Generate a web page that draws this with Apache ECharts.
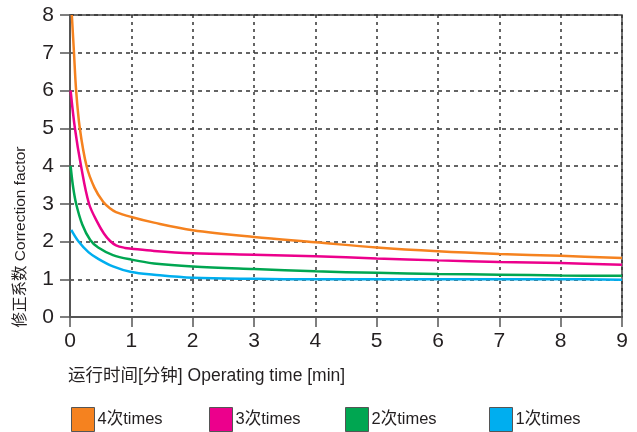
<!DOCTYPE html>
<html>
<head>
<meta charset="utf-8">
<script src="https://cdn.jsdelivr.net/npm/echarts@6/dist/echarts.min.js"></script>
<style>html,body{margin:0;padding:0;background:#fff;}#c{width:637px;height:432px;}</style>
</head>
<body>
<div id="c"></div>
<script>
const xTicks = [0, 1, 2, 3, 4, 5, 6, 7, 8, 9];
const yTicks = [0, 1, 2, 3, 4, 5, 6, 7, 8];
const seriesNames = ['4次times', '3次times', '2次times', '1次times'];

const orangeX = [0.03, 0.065, 0.10, 0.16, 0.27, 0.40, 0.54, 0.65, 0.75, 1, 1.37, 2, 3, 4, 5, 6, 7, 8, 9];
const orangeY = [8, 7, 6, 5, 4, 3.42, 3.05, 2.88, 2.78, 2.65, 2.5, 2.3, 2.12, 1.98, 1.84, 1.74, 1.67, 1.62, 1.56];

const pinkX = [0.01, 0.08, 0.18, 0.31, 0.45, 0.55, 0.65, 0.75, 0.9, 1, 1.37, 2, 3, 4, 5, 6, 7, 8, 9];
const pinkY = [6, 5, 4, 3, 2.5, 2.22, 2.02, 1.9, 1.83, 1.81, 1.75, 1.69, 1.65, 1.61, 1.55, 1.50, 1.46, 1.43, 1.385];

const greenX = [0.01, 0.05, 0.1, 0.2, 0.33, 0.46, 0.7, 1, 1.37, 2, 3, 4, 5, 6, 7, 8, 9];
const greenY = [4, 3.45, 3.0, 2.45, 2.04, 1.84, 1.64, 1.52, 1.42, 1.34, 1.27, 1.21, 1.17, 1.14, 1.12, 1.10, 1.09];

const cyanX = [0.02, 0.14, 0.3, 0.46, 0.7, 1, 1.37, 2, 3, 4, 5, 6, 7, 8, 9];
const cyanY = [2.31, 2.0, 1.72, 1.54, 1.34, 1.19, 1.12, 1.04, 1.01, 1.0, 1.0, 1.0, 1.0, 1.0, 0.99];

const colors = ['#F5821F', '#EC008C', '#00A651', '#00AEEF'];
const FONT = '"Liberation Sans", Arial, "Noto Sans CJK SC", sans-serif';

function zip(xs, ys) { return xs.map((x, i) => [x, ys[i]]); }
const allData = [zip(orangeX, orangeY), zip(pinkX, pinkY), zip(greenX, greenY), zip(cyanX, cyanY)];

const chart = echarts.init(document.getElementById('c'), null, {renderer: 'canvas'});
const legendLefts = [71, 209, 345, 489];

const option = {
  animation: false,
  backgroundColor: '#fff',
  textStyle: {fontFamily: FONT},
  grid: {left: 70, right: 15, top: 15, bottom: 115, show: true, borderColor: '#444', borderWidth: 1.5, outerBoundsMode: 'none'},
  xAxis: {
    type: 'value', min: xTicks[0], max: xTicks[xTicks.length - 1], interval: 1,
    axisLine: {show: true, onZero: false, lineStyle: {color: '#555', width: 2}},
    axisTick: {show: true, length: 10, lineStyle: {color: '#555', width: 1.5}},
    axisLabel: {color: '#231f20', fontSize: 21, margin: 14, fontFamily: FONT},
    splitLine: {show: true, lineStyle: {color: '#333', width: 1.5, type: [3, 4]}}
  },
  yAxis: {
    type: 'value', min: yTicks[0], max: yTicks[yTicks.length - 1], interval: 1,
    axisLine: {show: true, onZero: false, lineStyle: {color: '#555', width: 2}},
    axisTick: {show: true, length: 10, lineStyle: {color: '#555', width: 1.5}},
    axisLabel: {color: '#231f20', fontSize: 21, margin: 16, fontFamily: FONT},
    splitLine: {show: true, lineStyle: {color: '#333', width: 1.5, type: [4, 4]}}
  },
  legend: seriesNames.map((n, i) => ({
    data: [n], left: legendLefts[i], top: 407, padding: 0, icon: 'rect',
    itemWidth: 23, itemHeight: 24, itemGap: 6, selectedMode: false,
    itemStyle: {borderColor: '#555', borderWidth: 1},
    textStyle: {fontSize: 16.5, color: '#231f20', fontFamily: FONT, padding: [0, 0, 0, -2]}
  })),
  graphic: [
    {type: 'text', x: 21, y: 237, rotation: Math.PI / 2,
     style: {text: '修正系数 Correction factor', fill: '#231f20', font: '15.5px ' + FONT, align: 'center', verticalAlign: 'middle'}},
    {type: 'text', x: 68, y: 376,
     style: {text: '运行时间[分钟] Operating time [min]', fill: '#231f20', font: '17.5px ' + FONT, align: 'left', verticalAlign: 'middle'}}
  ],
  series: seriesNames.map((n, i) => ({
    name: n, type: 'line', data: allData[i], showSymbol: false, symbol: 'none',
    smooth: 0.35, clip: true,
    lineStyle: {color: colors[i], width: 2.5},
    itemStyle: {color: colors[i]},
    z: 10 - i
  }))
};
chart.setOption(option);
</script>
</body>
</html>
